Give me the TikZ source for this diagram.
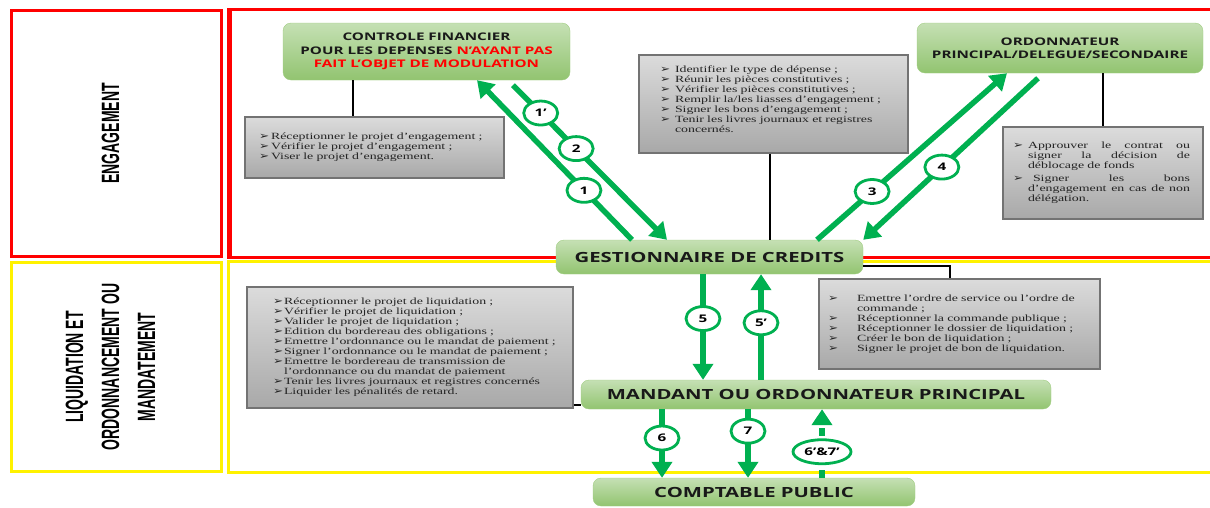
\documentclass[tikz,border=0pt]{standalone}
\usepackage{fontspec}
\setmainfont{Liberation Serif}[FakeStretch=1.46]
\newfontfamily\hdfont{Open Sans}[FakeStretch=1.45]
\newfontfamily\phfont{Liberation Sans}[FakeStretch=0.56]
\newfontfamily\bulfont{DejaVu Sans}[FakeStretch=1.2]
\usetikzlibrary{arrows.meta,shapes.geometric,positioning}

\definecolor{flowgreen}{RGB}{0,176,80}
\definecolor{boxtop}{RGB}{197,224,180}
\definecolor{boxbot}{RGB}{146,196,112}
\definecolor{boxline}{RGB}{160,205,130}
\definecolor{txtgray}{RGB}{35,35,35}

% one line of a task list, with its bullet
\newcommand{\itm}[2][12pt]{\mbox{\makebox[#1][l]{\bulfont\fontsize{10}{10}\selectfont ➢}#2}}
% a justified line
\newcommand{\jline}[2][177pt]{\leavevmode\hbox to #1{#2}}

\tikzset{
  actor/.style     = {rounded corners=8pt, top color=boxtop, bottom color=boxbot, draw=boxline, text=black!90, align=center, inner sep=2pt, font=\hdfont\bfseries\fontsize{10.5}{13.5}\selectfont},
  big actor/.style = {actor, font=\hdfont\bfseries\fontsize{14}{16}\selectfont},
  task/.style      = {draw=black!55, line width=1.2pt, top color=black!14, bottom color=black!34, text=txtgray, align=left, font=\fontsize{9.5}{10}\selectfont},
  phase/.style     = {line width=3pt, align=center, rotate=90, text depth=12pt, font=\phfont\bfseries\fontsize{25}{36}\selectfont},
  flow/.style      = {draw=flowgreen, line width=5.5pt, -{Triangle[width=20pt,length=16pt]}},
  num/.style       = {ellipse, draw=flowgreen, line width=2.8pt, fill=white, inner sep=0pt, minimum width=34pt, minimum height=24pt, font=\hdfont\bfseries\fontsize{10.5}{11}\selectfont},
  link/.style      = {draw=black, line width=1.8pt}
}

\begin{document}
\begin{tikzpicture}[x=1pt, y=-1pt]
\useasboundingbox (0,0) rectangle (1210,507);

% the two phases, left column
\node[phase, draw=red, minimum width=246pt, minimum height=210pt] (eng) at (116.5,133.5) {ENGAGEMENT};
\node[phase, draw=yellow, minimum width=209pt, minimum height=210pt] (liq) at (116.5,367) {LIQUIDATION ET\\ORDONNANCEMENT OU\\MANDATEMENT};

% the two phase bands
\draw[red, line width=3pt] (228,9.5) rectangle (1220,257.5);
\draw[red, line width=5pt] (229.5,8) -- (229.5,259);
\draw[yellow, line width=3pt] (228,261.5) rectangle (1220,472.5);

% actors
\node[actor, minimum width=287pt, minimum height=57pt] (cf) at (426.5,51.5)
  {CONTROLE FINANCIER\\POUR LES DEPENSES \textcolor{red}{N’AYANT PAS}\\\textcolor{red}{FAIT L’OBJET DE MODULATION}};
\node[actor, minimum width=286pt, minimum height=50pt] (ord) at (1060,48)
  {ORDONNATEUR\\PRINCIPAL/DELEGUE/SECONDAIRE};
\node[big actor, minimum width=307pt, minimum height=34pt] (gest) at (709.5,257) {GESTIONNAIRE DE CREDITS};
\node[big actor, minimum width=470pt, minimum height=29pt] (mand) at (816,394.5) {MANDANT OU ORDONNATEUR PRINCIPAL};
\node[big actor, minimum width=322pt, minimum height=28pt] (compt) at (754,492) {COMPTABLE PUBLIC};

% tasks of each actor
\node[task, inner xsep=14pt, text width=231pt, minimum height=61pt] (cfbox) at (374.5,147.5)
  {\itm{Réceptionner le projet d’engagement ;}\\
   \itm{Vérifier le projet d’engagement ;}\\
   \itm{Viser le projet d’engagement.}};
\node[task, inner xsep=21pt, text width=227pt, minimum height=98pt] (gbox) at (773.5,104)
  {\itm[15pt]{Identifier le type de dépense ;}\\
   \itm[15pt]{Réunir les pièces constitutives ;}\\
   \itm[15pt]{Vérifier les pièces constitutives ;}\\
   \itm[15pt]{Remplir la/les liasses d’engagement ;}\\
   \itm[15pt]{Signer les bons d’engagement ;}\\
   \itm[15pt]{Tenir les livres journaux et registres}\\
   \hspace*{15pt}concernés.\\ \mbox{}};
\node[task, inner xsep=10pt, text width=180pt, minimum height=92pt] (ordbox) at (1103,173)
  {\jline{\itm[15pt]{Approuver}\hfill le\hfill contrat\hfill ou}\\
   \jline{\hspace*{15pt}signer\hfill la\hfill décision\hfill de}\\
   \hspace*{15pt}déblocage de fonds\\[3pt]
   \jline{\itm[20pt]{Signer}\hfill les\hfill bons}\\
   \jline{\hspace*{15pt}d’engagement\hfill en\hfill cas\hfill de\hfill non}\\
   \hspace*{15pt}délégation.};
\node[task, inner xsep=26pt, text width=274pt, minimum height=121pt] (lqbox) at (410,347.5)
  {\itm[11pt]{Réceptionner le projet de liquidation ;}\\
   \itm[11pt]{Vérifier le projet de liquidation ;}\\
   \itm[11pt]{Valider le projet de liquidation ;}\\
   \itm[11pt]{Edition du bordereau des obligations ;}\\
   \itm[11pt]{Emettre l’ordonnance ou le mandat de paiement ;}\\
   \itm[11pt]{Signer l’ordonnance ou le mandat de paiement ;}\\
   \itm[11pt]{Emettre le bordereau de transmission de}\\
   \hspace*{11pt}l’ordonnance ou du mandat de paiement\\
   \itm[11pt]{Tenir les livres journaux et registres concernés}\\
   \itm[11pt]{Liquider les pénalités de retard.}};
\node[task, inner xsep=9pt, text width=263pt, minimum height=90pt] (mbox) at (959.5,324)
  {\itm[29pt]{Emettre l’ordre de service ou l’ordre de}\\
   \hspace*{29pt}commande ;\\
   \itm[29pt]{Réceptionner la commande publique ;}\\
   \itm[29pt]{Réceptionner le dossier de liquidation ;}\\
   \itm[29pt]{Créer le bon de liquidation ;}\\
   \itm[29pt]{Signer le projet de bon de liquidation.}};

% lines from each actor to its tasks
\draw[link] ([xshift=-21.5pt]cfbox.north |- cf.south) -- ([xshift=-21.5pt]cfbox.north);
\draw[link] ([xshift=-3.5pt]gbox.south) -- ([xshift=-3.5pt]gbox.south |- gest.north);
\draw[link] (ordbox.north |- ord.south) -- (ordbox.north);
\draw[link] ([yshift=-9pt]gest.east) -| ([xshift=-9.5pt]mbox.north);
\draw[link] ([yshift=4pt]lqbox.south east) -- ([yshift=4pt]lqbox.south east -| mand.west);

% flows of the engagement
\draw[flow] ([xshift=-77.5pt]gest.north) -- node[num, pos=0.31] (n1) {1} ([xshift=50.5pt]cf.south);
\draw[flow] ([xshift=86.5pt,yshift=-5pt]cf.south) -- node[num, pos=0.18] (n1b) {1’}
  node[num, pos=0.41] (n2) {2} ([xshift=-42.5pt]gest.north);
\draw[flow] ([xshift=107.5pt]gest.north) -- node[num, pos=0.29] (n3) {3} ([xshift=-53pt]ord.south);
\draw[flow] ([xshift=-22pt,yshift=-5pt]ord.south) -- node[num, pos=0.55] (n4) {4} (gest.north east);

% flows of the liquidation
\draw[flow] ([xshift=-6.5pt]gest.south) -- node[num, pos=0.42] (n5) {5} ([xshift=-113pt]mand.north);
\draw[flow] ([xshift=-55pt]mand.north) -- node[num, pos=0.54] (n5b) {5’} ([xshift=51.5pt]gest.south);
\draw[flow] ([xshift=-154pt]mand.south) -- node[num, pos=0.42] (n6) {6} ([xshift=-92pt]compt.north);
\draw[flow] ([xshift=-68pt]mand.south) -- node[num, pos=0.32] (n7) {7} ([xshift=-6pt]compt.north);
\draw[flow, dash pattern=on 8pt off 6pt] ([xshift=68pt]compt.north) -- node[num, solid, pos=0.38, minimum width=58pt] (n67) {6’\&7’} ([xshift=6pt]mand.south);
\end{tikzpicture}
\end{document}
